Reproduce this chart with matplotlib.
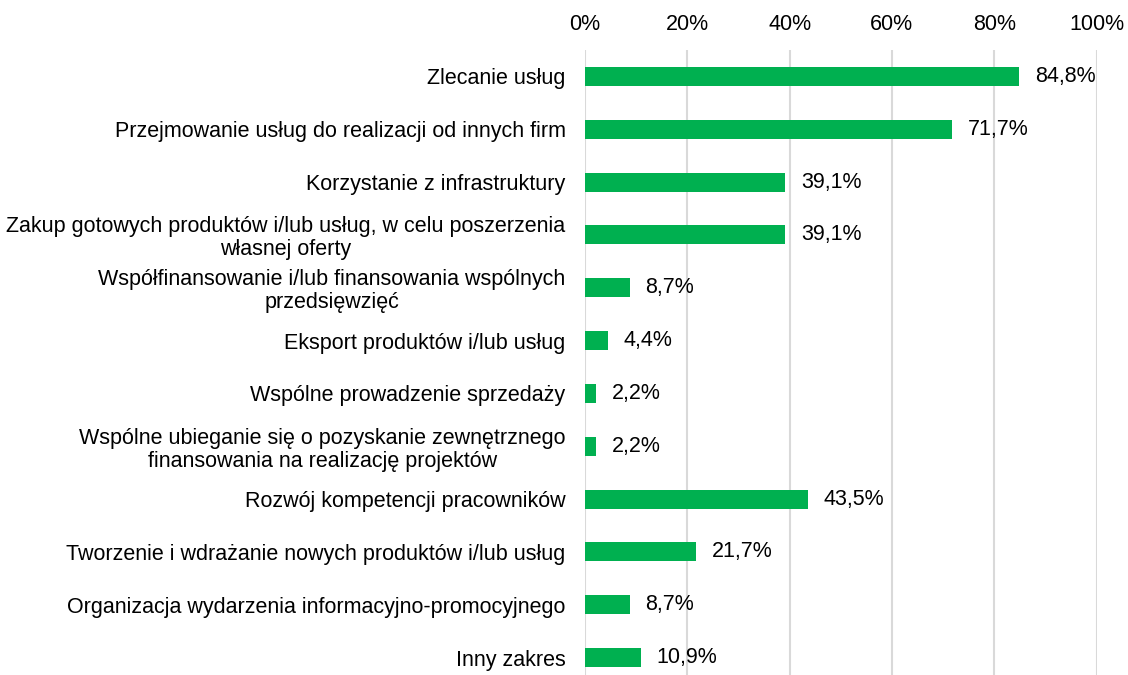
import matplotlib.pyplot as plt
from matplotlib.ticker import FuncFormatter

plt.rcParams['font.family'] = ['Liberation Sans', 'DejaVu Sans']

categories = [
    "Zlecanie usług",
    "Przejmowanie usług do realizacji od innych firm",
    "Korzystanie z infrastruktury",
    "Zakup gotowych produktów i/lub usług, w celu poszerzenia\nwłasnej oferty",
    "Współfinansowanie i/lub finansowania wspólnych\nprzedsięwzięć",
    "Eksport produktów i/lub usług",
    "Wspólne prowadzenie sprzedaży",
    "Wspólne ubieganie się o pozyskanie zewnętrznego\nfinansowania na realizację projektów",
    "Rozwój kompetencji pracowników",
    "Tworzenie i wdrażanie nowych produktów i/lub usług",
    "Organizacja wydarzenia informacyjno-promocyjnego",
    "Inny zakres",
]
values = [84.8, 71.7, 39.1, 39.1, 8.7, 4.4, 2.2, 2.2, 43.5, 21.7, 8.7, 10.9]
x_ticks = [0, 20, 40, 60, 80, 100]

FS = 15.5

fig = plt.figure(figsize=(11.28, 6.75), dpi=100)
ax = fig.add_axes([585 / 1128, 0.0, (1096.5 - 585) / 1128, 1 - 50 / 675])

pos = list(range(len(categories)))
ax.barh(pos, values, height=0.36, color='#00B050', zorder=3)

for p, v in zip(pos, values):
    ax.annotate(f"{v:.1f}%".replace('.', ','), (v, p), xytext=(11.5, 0),
                textcoords='offset points', ha='left', va='center',
                fontsize=FS, color='#000000')

ax.set_xlim(0, 100)
ax.set_ylim(11.33, -0.5)
ax.set_xticks(x_ticks)
ax.xaxis.set_major_formatter(FuncFormatter(lambda x, _: f"{x:.0f}%"))
ax.xaxis.tick_top()
ax.tick_params(axis='x', length=0, pad=11, labelsize=FS)
ax.set_yticks(pos)
ax.set_yticklabels(categories, fontsize=FS, multialignment='center',
                   linespacing=1.12)
ax.tick_params(axis='y', length=0, pad=14)
ax.grid(axis='x', color='#D9D9D9', linewidth=1.5, zorder=0)
for s in ax.spines.values():
    s.set_visible(False)

fig.savefig('out.png', dpi=100)
